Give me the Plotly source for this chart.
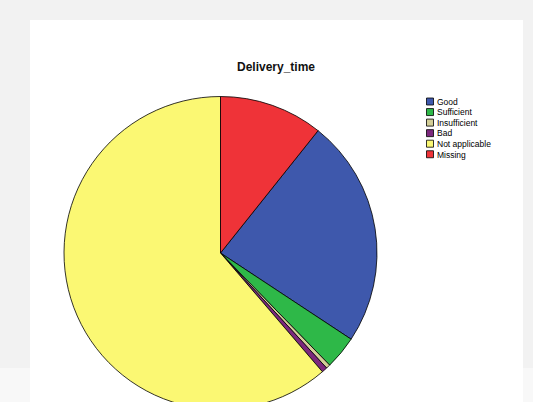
import plotly.graph_objects as go

# ---- data ----
categories = ["Good", "Sufficient", "Insufficient", "Bad", "Not applicable", "Missing"]
counts = [165, 24, 3, 4, 429, 75]
colors = ["#3E58AC", "#2EB848", "#D3CE97", "#7C287D", "#FBF873", "#EF3338"]
title_text = "Delivery_time"

W, H = 533, 420

def px_x(x):
    return x / W

def px_y(y):
    return (H - y) / H

# pie geometry in pixels
cx, cy, r = 220.5, 253.0, 156.5

fig = go.Figure()
fig.add_trace(go.Pie(
    labels=categories,
    values=counts,
    marker=dict(colors=colors, line=dict(color="#000000", width=0.8)),
    sort=False,
    direction="clockwise",
    rotation=counts[-1] / sum(counts) * 360,
    textinfo="none",
    hoverinfo="label+value+percent",
    showlegend=False,
    domain=dict(x=[px_x(cx - r), px_x(cx + r)], y=[px_y(cy + r), px_y(cy - r)]),
))

shapes = [
    # lighter lower band of the background
    dict(type="rect", xref="paper", yref="paper", x0=0, x1=1, y0=-0.05, y1=px_y(368),
         fillcolor="#f8f8f8", line=dict(width=0), layer="below"),
    # white panel
    dict(type="rect", xref="paper", yref="paper", x0=px_x(30), x1=px_x(523),
         y0=-0.05, y1=px_y(20), fillcolor="#ffffff", line=dict(width=0), layer="below"),
]

annotations = [
    dict(text="<b>" + title_text + "</b>", xref="paper", yref="paper",
         x=px_x(276), y=px_y(66.5), xanchor="center", yanchor="middle", showarrow=False,
         font=dict(family="Liberation Sans, Arial, sans-serif", size=12, color="#111111")),
]

# custom compact legend
leg_x0, leg_y0, leg_dy, sw = 426.5, 101.5, 10.55, 7
for i, (lab, col) in enumerate(zip(categories, colors)):
    yc = leg_y0 + i * leg_dy
    shapes.append(dict(type="rect", xref="paper", yref="paper",
                       x0=px_x(leg_x0), x1=px_x(leg_x0 + sw),
                       y0=px_y(yc + sw / 2), y1=px_y(yc - sw / 2),
                       fillcolor=col, line=dict(color="#000000", width=0.8), layer="above"))
    annotations.append(dict(text=lab, xref="paper", yref="paper",
                            x=px_x(leg_x0 + sw + 1.5), y=px_y(yc + 0.3),
                            xanchor="left", yanchor="middle", showarrow=False,
                            font=dict(family="Liberation Sans, Arial, sans-serif", size=8.5,
                                      color="#000000")))

fig.update_layout(
    width=W, height=H,
    margin=dict(l=0, r=0, t=0, b=0),
    paper_bgcolor="#f2f2f2",
    plot_bgcolor="#f2f2f2",
    showlegend=False,
    shapes=shapes,
    annotations=annotations,
)

fig.write_html(
    "out.html",
    config={"displayModeBar": False},
    post_script="document.body.style.margin='0';document.body.style.overflow='hidden';"
                "document.documentElement.style.overflow='hidden';",
)
